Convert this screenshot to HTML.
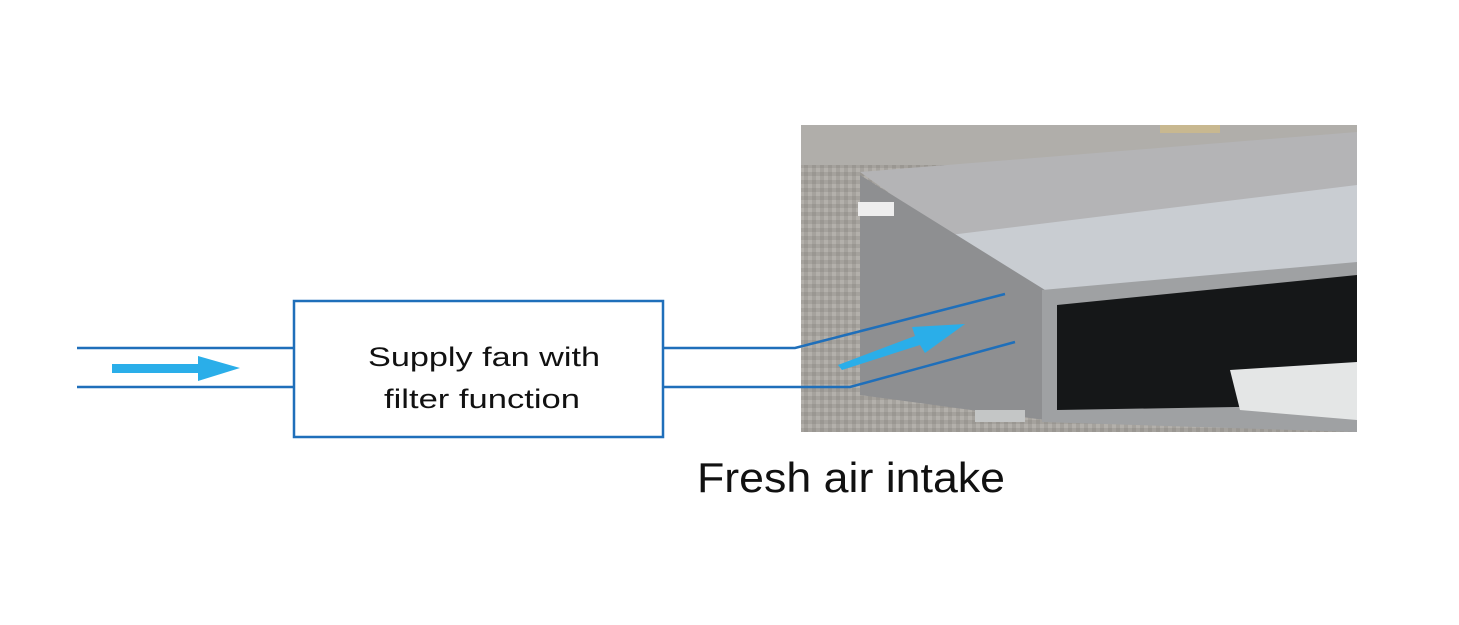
<!DOCTYPE html>
<html><head><meta charset="utf-8"><style>
html,body{margin:0;padding:0;background:#fff;}
svg{display:block;}
</style></head><body>
<svg width="1459" height="625" viewBox="0 0 1459 625" xmlns="http://www.w3.org/2000/svg">
<defs>
<pattern id="floor" width="8" height="8" patternUnits="userSpaceOnUse">
<rect width="8" height="8" fill="#a5a29d"/><rect width="4" height="4" fill="#b3b0ab"/><rect x="4" y="4" width="4" height="4" fill="#9a9792"/>
</pattern>
</defs>
<rect x="801" y="125" width="556" height="307" fill="url(#floor)"/>
<rect x="801" y="125" width="556" height="40" fill="#b0aeaa"/>
<rect x="1160" y="125" width="60" height="8" fill="#c8b890"/>
<polygon points="860,172 1357,132 1357,195 1040,290 955,240" fill="#b4b4b6"/>
<polygon points="950,235 1357,185 1357,265 1045,292" fill="#c9cdd2"/>
<polygon points="860,175 1045,290 1045,420 860,395" fill="#8e8f91"/>
<polygon points="1042,290 1357,262 1357,432 1042,422" fill="#9fa1a3"/>
<polygon points="1057,305 1357,275 1357,405 1057,410" fill="#151718"/>
<polygon points="1230,370 1357,362 1357,420 1240,410" fill="#e4e6e6"/>
<rect x="858" y="202" width="36" height="14" fill="#eeeeee"/>
<rect x="975" y="410" width="50" height="12" fill="#c4c6c6"/>
<g stroke="#1f6fba" stroke-width="2.5" fill="none">
<line x1="77" y1="348" x2="293" y2="348"/>
<line x1="77" y1="387" x2="293" y2="387"/>
<polyline points="663,348 795,348 1005,294"/>
<polyline points="663,387 850,387 1015,342"/>
<rect x="294" y="301" width="369" height="136"/>
</g>
<polygon points="112,364 198,364 198,356 240,368 198,381 198,373 112,373" fill="#2aaee9"/>
<polygon points="838,365 915,336 912,327 965,324 925,353 920,345 842,370" fill="#2aaee9"/>
<text x="368" y="366" font-family="Liberation Sans, sans-serif" font-size="27" textLength="232" lengthAdjust="spacingAndGlyphs" fill="#111">Supply fan with</text>
<text x="384" y="408" font-family="Liberation Sans, sans-serif" font-size="27" textLength="196" lengthAdjust="spacingAndGlyphs" fill="#111">filter function</text>
<text x="697" y="492" font-family="Liberation Sans, sans-serif" font-size="42" textLength="308" lengthAdjust="spacingAndGlyphs" fill="#111">Fresh air intake</text>
</svg>
</body></html>
